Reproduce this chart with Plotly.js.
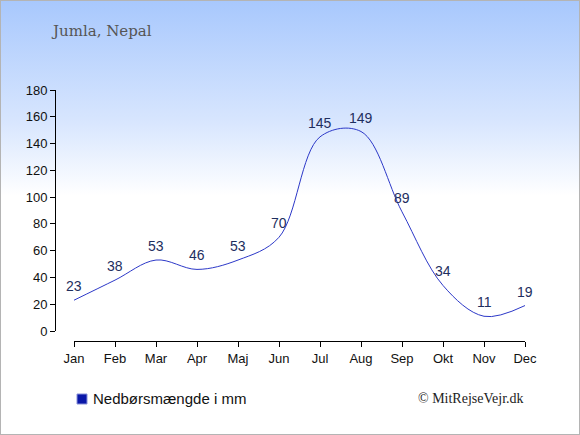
<!DOCTYPE html>
<html><head><meta charset="utf-8">
<script src="https://cdn.plot.ly/plotly-3.0.1.min.js"></script>
<style>
html,body{margin:0;padding:0;}
#wrap{width:578px;height:433px;border:1px solid #b4b4b4;background:linear-gradient(to bottom,#a8c8fd 0%,#d8e6fe 28%,#ffffff 45%,#ffffff 100%);}
#chart{width:578px;height:433px;}
</style></head>
<body><div id="wrap"><div id="chart"></div></div>
<script>
const months = ['Jan','Feb','Mar','Apr','Maj','Jun','Jul','Aug','Sep','Okt','Nov','Dec'];
const rain = [23,38,53,46,53,70,145,149,89,34,11,19];
const yTicks = [0,20,40,60,80,100,120,140,160,180];
const title = 'Jumla, Nepal';
const legendLabel = 'Nedbørsmængde i mm';
const credit = '© MitRejseVejr.dk';

const idx = months.map((m,i)=>i);
const trace = {
  x: idx, y: rain, mode: 'lines', type: 'scatter',
  line: {shape: 'spline', smoothing: 1, color: '#2c38c8', width: 1},
  hoverinfo: 'none', showlegend: false
};
const valueLabels = rain.map((v,i)=>({
  x: i, y: v, xref: 'x', yref: 'y', text: String(v), showarrow: false,
  xanchor: 'center', yanchor: 'middle', yshift: 14,
  font: {family: 'Liberation Sans, Arial, sans-serif', size: 14, color: '#1e2e5e'}
}));
const layout = {
  width: 578, height: 433,
  margin: {l: 54, r: 54, t: 79, b: 93},
  paper_bgcolor: 'rgba(0,0,0,0)', plot_bgcolor: 'rgba(0,0,0,0)',
  font: {family: 'Liberation Sans, Arial, sans-serif', size: 13, color: '#111'},
  xaxis: {domain: [19/470, 1], anchor: 'free', position: 0, range: [0, 11],
    tickvals: idx, ticktext: months,
    showline: true, linecolor: '#000', linewidth: 1, ticks: 'outside', ticklen: 5, tickcolor: '#000',
    showgrid: false, zeroline: false, tickfont: {size: 13}},
  yaxis: {domain: [10/261, 251/261], anchor: 'free', position: 0, range: [0, 180],
    tickvals: yTicks, showline: true, linecolor: '#000', linewidth: 1, ticks: 'outside', ticklen: 5,
    tickcolor: '#000', showgrid: false, zeroline: false, tickfont: {size: 13}},
  shapes: [
    {type: 'rect', xref: 'paper', yref: 'paper', x0: 22/470, x1: 32/470, y0: (341-404)/261, y1: (341-394)/261,
     fillcolor: '#0a18a8', line: {color: '#8890d8', width: 1}}
  ],
  annotations: [
    {text: title, xref: 'paper', yref: 'paper', x: -6/470, y: (341-31)/261, xanchor: 'left', yanchor: 'middle',
     showarrow: false, font: {family: 'DejaVu Serif, Georgia, serif', size: 15, color: '#555'}},
    {text: legendLabel, xref: 'paper', yref: 'paper',
     x: 36/470, y: (341-398)/261, xanchor: 'left', yanchor: 'middle', showarrow: false,
     font: {family: 'Liberation Sans, Arial, sans-serif', size: 15, color: '#111'}},
    {text: credit, xref: 'paper', yref: 'paper', x: 1.003, y: (341-398)/261, xanchor: 'right', yanchor: 'middle',
     showarrow: false, font: {family: 'Liberation Serif, Times New Roman, serif', size: 14, color: '#222'}}
  ].concat(valueLabels)
};
Plotly.newPlot('chart', [trace], layout, {displayModeBar: false, staticPlot: true});
</script></body></html>
